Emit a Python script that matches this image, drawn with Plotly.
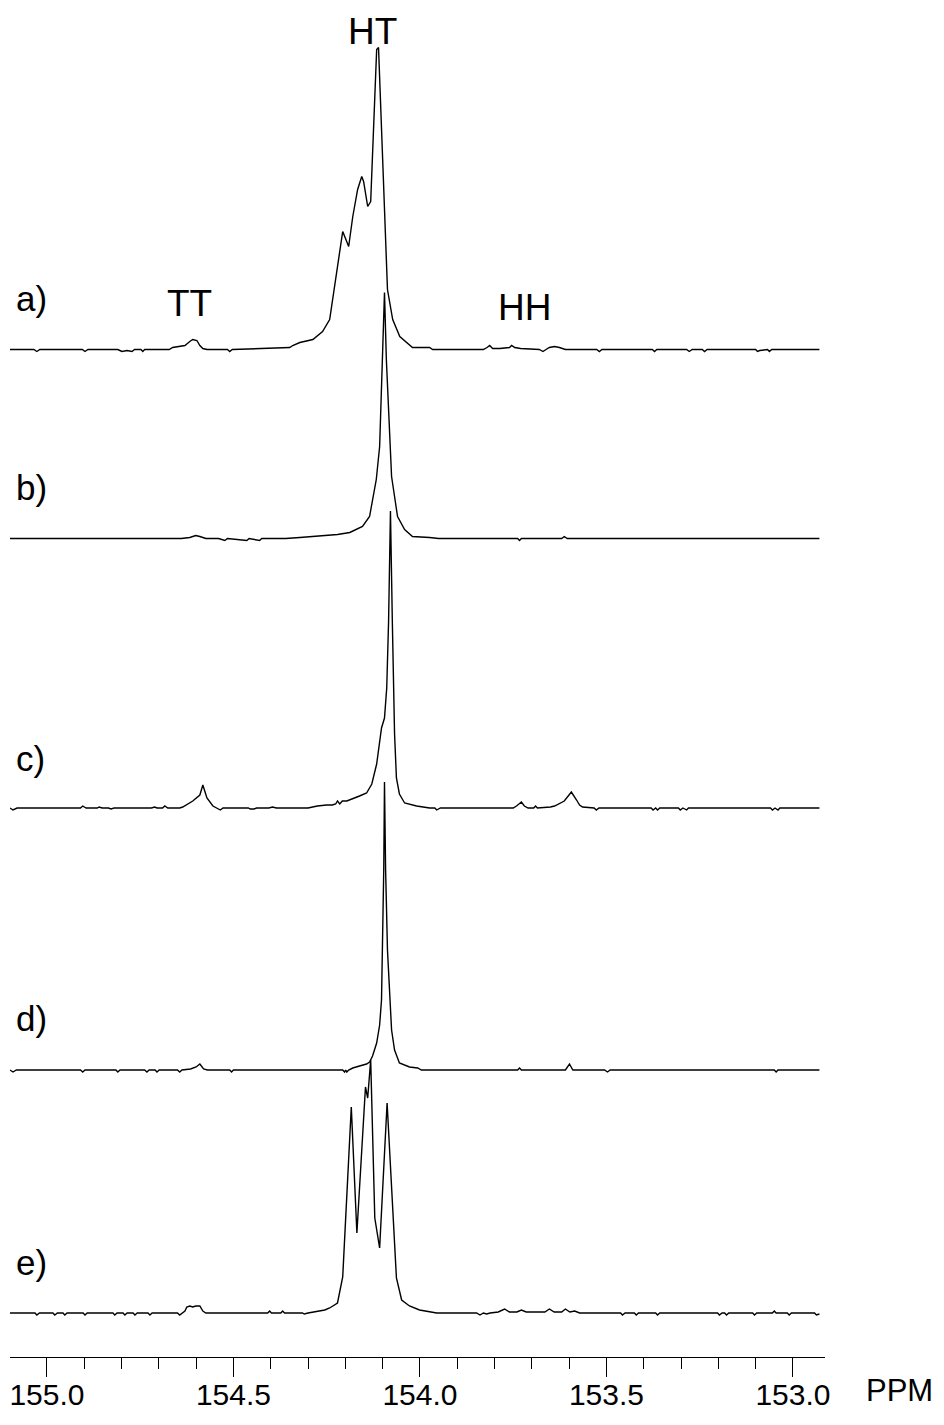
import plotly.graph_objects as go

# 13C NMR carbonyl region, five samples stacked vertically.
# Each spectrum: (chemical shift in ppm, intensity in arbitrary units)
SPEC_A = [
    (155.099, 0), (155.035, 0), (155.027, -2), (155.019, 0), (154.905, 0), (154.898, -2),
    (154.890, 0), (154.810, 0), (154.799, -2), (154.785, -1), (154.772, -2), (154.765, 0),
    (154.748, 0), (154.743, -2), (154.738, 0), (154.672, 0), (154.663, 2), (154.644, 3),
    (154.630, 4), (154.617, 8), (154.609, 10), (154.598, 9), (154.590, 4), (154.582, 1),
    (154.571, 0), (154.516, 0), (154.510, -2), (154.503, 0), (154.411, 1), (154.349, 2),
    (154.341, 4), (154.322, 7), (154.287, 10), (154.261, 18), (154.242, 30), (154.234, 50),
    (154.223, 73), (154.215, 97), (154.207, 118), (154.191, 103), (154.180, 133),
    (154.167, 160), (154.156, 173), (154.151, 168), (154.140, 143), (154.132, 148),
    (154.124, 217), (154.116, 300), (154.111, 302), (154.103, 223), (154.095, 133),
    (154.087, 60), (154.073, 30), (154.054, 13), (154.020, 2), (153.974, 2), (153.966, 0),
    (153.830, 0), (153.820, 2), (153.813, 4), (153.805, 1), (153.786, 1), (153.760, 2),
    (153.754, 4), (153.746, 2), (153.730, 1), (153.680, 0), (153.670, -2), (153.662, 0),
    (153.653, 2), (153.639, 3), (153.626, 2), (153.610, 0), (153.526, 0), (153.519, -2),
    (153.512, 0), (153.377, 0), (153.371, -2), (153.365, 0), (153.285, 0), (153.278, -2),
    (153.270, 0), (153.243, 0), (153.237, -2), (153.230, 0), (153.100, 0), (153.095, -2),
    (153.089, -1), (153.068, 0), (153.063, -2), (153.057, 0), (152.929, 0),
]

SPEC_B = [
    (155.099, 0), (154.640, 0), (154.617, 1), (154.601, 3), (154.590, 2), (154.574, 0),
    (154.540, 0), (154.523, -2), (154.516, 0), (154.464, -2), (154.458, 0), (154.430, -2),
    (154.424, 0), (154.360, 0), (154.322, 1), (154.242, 3), (154.221, 4), (154.188, 6),
    (154.154, 12), (154.135, 22), (154.127, 39), (154.117, 59), (154.108, 92),
    (154.100, 179), (154.095, 246), (154.090, 179), (154.081, 92), (154.076, 62),
    (154.068, 42), (154.060, 22), (154.041, 9), (154.020, 2), (153.974, 1), (153.950, 0),
    (153.738, 0), (153.733, -2), (153.728, 0), (153.620, 0), (153.613, 2), (153.605, 0),
    (152.929, 0),
]

SPEC_C = [
    (155.099, 0), (155.091, -2), (155.080, 0), (154.910, 0), (154.904, 2), (154.895, 0),
    (154.865, 0), (154.860, 1), (154.852, 0), (154.835, 0), (154.828, -1), (154.820, 0),
    (154.720, 0), (154.711, 1), (154.705, 0), (154.690, 0), (154.684, 2), (154.676, 0),
    (154.644, 0), (154.636, 1), (154.609, 7), (154.590, 13), (154.582, 23), (154.571, 10),
    (154.555, 2), (154.545, 0), (154.535, -2), (154.528, 0), (154.460, 0), (154.455, -1),
    (154.445, -1), (154.438, 0), (154.405, 0), (154.395, 1), (154.385, 0), (154.300, 0),
    (154.275, 2), (154.250, 3), (154.235, 3), (154.226, 4), (154.221, 7), (154.215, 4),
    (154.208, 7), (154.196, 7), (154.180, 9), (154.162, 12), (154.143, 15), (154.129, 24),
    (154.116, 44), (154.103, 80), (154.095, 90), (154.089, 120), (154.084, 187),
    (154.079, 297), (154.074, 187), (154.068, 74), (154.063, 30), (154.055, 14),
    (154.041, 5), (154.009, 2), (153.974, 0), (153.960, 0), (153.955, -2), (153.945, 0),
    (153.750, 0), (153.741, 2), (153.728, 6), (153.720, 2), (153.710, 0), (153.695, 0),
    (153.690, 2), (153.685, 0), (153.650, 1), (153.639, 2), (153.613, 7), (153.599, 14),
    (153.594, 16), (153.580, 8), (153.572, 3), (153.564, 1), (153.545, 0), (153.533, 0),
    (153.527, -2), (153.520, 0), (153.380, 0), (153.375, -2), (153.368, 0), (153.363, -2),
    (153.357, 0), (153.307, 0), (153.302, -2), (153.295, 0), (153.285, -2), (153.280, 0),
    (153.060, 0), (153.055, -2), (153.048, 0), (153.040, -2), (153.035, 0), (152.929, 0),
]

SPEC_D = [
    (155.099, 0), (155.091, -2), (155.082, 0), (154.910, 0), (154.904, -2), (154.898, 0),
    (154.815, 0), (154.810, -2), (154.804, 0), (154.738, 0), (154.732, -2), (154.726, 0),
    (154.710, 0), (154.705, -2), (154.699, 0), (154.650, 0), (154.644, -2), (154.638, 0),
    (154.615, 1), (154.600, 3), (154.590, 6), (154.580, 1), (154.570, 0), (154.510, 0),
    (154.505, -2), (154.500, 0), (154.207, 0), (154.202, -2), (154.199, 0), (154.196, -2),
    (154.191, 0), (154.180, 2), (154.162, 4), (154.143, 6), (154.135, 8), (154.127, 14),
    (154.116, 27), (154.108, 45), (154.103, 70), (154.100, 120), (154.097, 200),
    (154.095, 288), (154.092, 200), (154.087, 120), (154.081, 70), (154.076, 40),
    (154.068, 20), (154.055, 7), (154.028, 3), (154.006, 2), (153.996, 0), (153.738, 0),
    (153.733, 2), (153.728, 0), (153.610, 0), (153.599, 6), (153.590, 0), (153.505, 0),
    (153.497, -2), (153.490, 0), (153.050, 0), (153.045, -2), (153.040, 0), (152.929, 0),
]

SPEC_E = [
    (155.099, 0), (155.032, 0), (155.027, -2), (155.020, 0), (154.984, 0), (154.979, -2),
    (154.972, 0), (154.957, 0), (154.952, -2), (154.946, 0), (154.903, 0), (154.898, -2),
    (154.892, 0), (154.823, 0), (154.818, -2), (154.812, 0), (154.796, 0), (154.791, -2),
    (154.785, 0), (154.769, 0), (154.764, -2), (154.758, 0), (154.729, 0), (154.724, -2),
    (154.718, 0), (154.650, 0), (154.644, -2), (154.638, 0), (154.630, 2), (154.625, 6),
    (154.617, 7), (154.609, 6), (154.601, 7), (154.590, 7), (154.582, 2), (154.574, 0),
    (154.408, 0), (154.403, 2), (154.398, 0), (154.373, 0), (154.368, 2), (154.363, 0),
    (154.315, 0), (154.310, -1), (154.300, 0), (154.270, 2), (154.255, 3), (154.242, 5),
    (154.221, 10), (154.207, 36), (154.184, 206), (154.169, 80), (154.146, 226),
    (154.140, 215), (154.132, 253), (154.121, 95), (154.108, 65), (154.088, 210),
    (154.076, 120), (154.063, 35), (154.049, 13), (154.028, 7), (154.001, 3),
    (153.966, 1), (153.955, 0), (153.848, 0), (153.839, -2), (153.830, 0), (153.821, -1),
    (153.812, 0), (153.790, 1), (153.773, 4), (153.760, 1), (153.740, 1), (153.728, 3),
    (153.715, 1), (153.665, 1), (153.653, 4), (153.640, 1), (153.620, 1), (153.610, 4),
    (153.598, 1), (153.585, 2), (153.572, 0), (153.462, 0), (153.457, -2), (153.450, 0),
    (153.425, 0), (153.420, -2), (153.414, 0), (153.368, 0), (153.363, -2), (153.357, 0),
    (153.202, 0), (153.197, -2), (153.190, 0), (153.183, 0), (153.178, -2), (153.172, 0),
    (153.108, 0), (153.103, -2), (153.097, 0), (153.055, 0), (153.050, 2), (153.045, 0),
    (153.015, 0), (153.010, -2), (153.004, 0), (152.942, 0), (152.937, -2), (152.929, -1),
]

SPECTRA = [SPEC_A, SPEC_B, SPEC_C, SPEC_D, SPEC_E]
PANEL_LABELS = ["a)", "b)", "c)", "d)", "e)"]

# vertical stacking offsets (same units as intensity)
OFFSETS = [1007.5, 818.5, 549, 287, 44]
LABEL_Y = [1059, 870, 599, 339, 95]

# peak assignments written over spectrum a)
PEAK_NAMES = ["HT", "TT", "HH"]
PEAK_PPM = [154.127, 154.617, 153.720]
PEAK_Y = [1326, 1054, 1050]

TICK_VALS = [155.0, 154.5, 154.0, 153.5, 153.0]
TICK_TEXT = ["155.0", "154.5", "154.0", "153.5", "153.0"]

FONT = "Liberation Sans, Arial, sans-serif"

fig = go.Figure()
for spec, off in zip(SPECTRA, OFFSETS):
    xs = [p for p, _ in spec]
    ys = [v + off for _, v in spec]
    fig.add_trace(go.Scatter(
        x=xs, y=ys, mode="lines",
        line=dict(color="#000000", width=1.4),
        hoverinfo="skip", showlegend=False,
    ))

annotations = []
for lab, ly in zip(PANEL_LABELS, LABEL_Y):
    annotations.append(dict(
        x=155.088, y=ly, xref="x", yref="y", text=lab, showarrow=False,
        xanchor="left", yanchor="middle",
        font=dict(family=FONT, size=35, color="#000000"),
    ))
for name, px, py in zip(PEAK_NAMES, PEAK_PPM, PEAK_Y):
    annotations.append(dict(
        x=px, y=py, xref="x", yref="y", text=name, showarrow=False,
        xanchor="center", yanchor="middle",
        font=dict(family=FONT, size=37, color="#000000"),
    ))
annotations.append(dict(
    x=1.092, y=-0.0245, xref="paper", yref="paper", text="PPM", showarrow=False,
    xanchor="center", yanchor="middle",
    font=dict(family=FONT, size=31, color="#000000"),
))

fig.update_layout(
    width=944, height=1425,
    margin=dict(l=10, r=119, t=0, b=68),
    paper_bgcolor="white", plot_bgcolor="white",
    annotations=annotations,
    xaxis=dict(
        range=[155.099, 152.914],
        showgrid=False, zeroline=False,
        showline=True, linecolor="#000000", linewidth=1.3,
        ticks="outside", ticklen=19, tickwidth=1.3, tickcolor="#000000",
        tickvals=TICK_VALS, ticktext=TICK_TEXT,
        tickfont=dict(family=FONT, size=30, color="#000000"),
        ticklabelstandoff=-8,
        minor=dict(ticks="outside", ticklen=11, tickwidth=1.3, tickcolor="#000000", dtick=0.1),
    ),
    yaxis=dict(range=[0, 1357], visible=False, showgrid=False, zeroline=False),
)

fig.write_html("out.html")
